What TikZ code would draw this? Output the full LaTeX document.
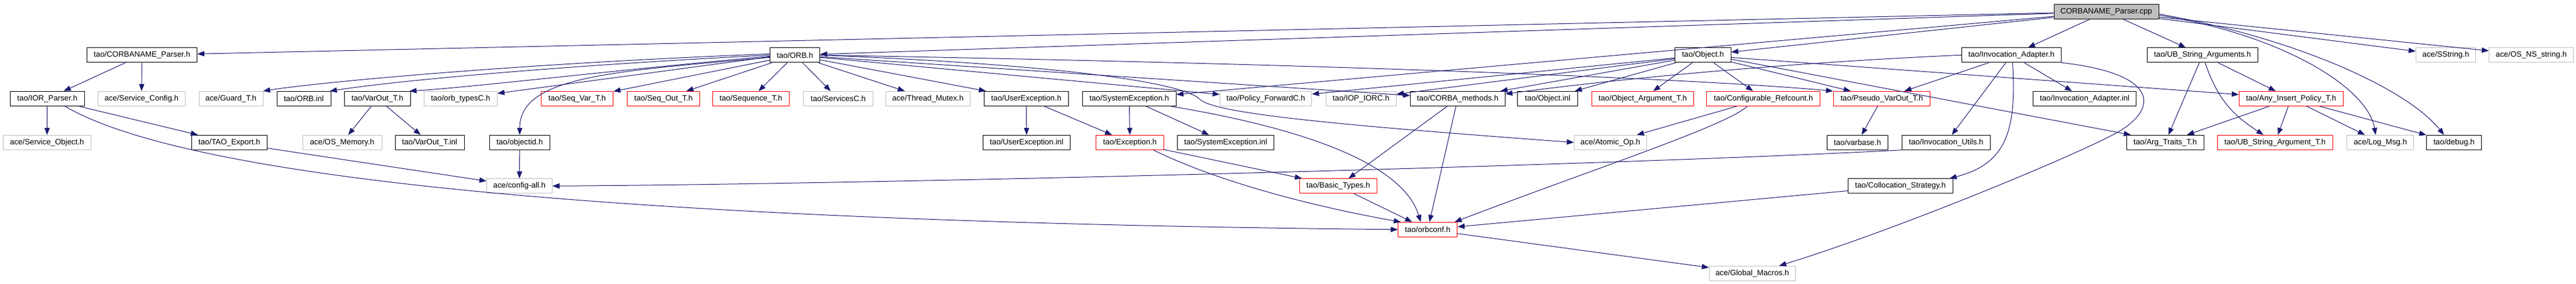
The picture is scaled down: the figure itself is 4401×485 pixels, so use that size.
\documentclass[tikz,border=0pt]{standalone}
\usepackage{fontspec}
\setmainfont{Liberation Sans}
\usetikzlibrary{arrows.meta,calc}
\definecolor{edgec}{HTML}{191970}
\definecolor{grayb}{HTML}{BFBFBF}
\definecolor{redb}{HTML}{FF0000}
\newcommand\nodefont{\fontsize{13.3}{15}\selectfont}
\tikzset{
  nd/.style={draw, minimum height=25pt, inner sep=0pt, font=\nodefont, line width=1pt},
  blk/.style={nd, draw=black},
  gry/.style={nd, draw=grayb},
  rdn/.style={nd, draw=redb},
  edge/.style={draw=edgec, line width=1pt, -{Triangle[length=12pt,width=9pt]}}
}
\begin{document}
\begin{tikzpicture}[x=1pt,y=-1pt]
\fill[white] (0,0) rectangle (4401,485);
\useasboundingbox (0,0) rectangle (4401,485);
% row 0
\node[nd, draw=black, fill=grayb, minimum width=179pt] (root) at (3598.5,20) {CORBANAME\_Parser.cpp};
% row 1
\node[blk, minimum width=188pt] (cph) at (242.6,94.3) {tao/CORBANAME\_Parser.h};
\node[blk, minimum width=85pt] (orbh) at (1358.2,94.3) {tao/ORB.h};
\node[blk, minimum width=95.4pt] (objh) at (2909.5,94.3) {tao/Object.h};
\node[blk, minimum width=170.3pt] (invad) at (3436.5,94.3) {tao/Invocation\_Adapter.h};
\node[blk, minimum width=188.7pt] (ubargs) at (3763,94.3) {tao/UB\_String\_Arguments.h};
\node[gry, minimum width=102pt] (sstring) at (4178.5,94.3) {ace/SString.h};
\node[gry, minimum width=144pt] (osns) at (4324.5,94.3) {ace/OS\_NS\_string.h};
% row 2
\node[blk, minimum width=126.5pt] (ior) at (80.8,168.8) {tao/IOR\_Parser.h};
\node[gry, minimum width=148.5pt] (svcconf) at (241.8,168.8) {ace/Service\_Config.h};
\node[gry, minimum width=109pt] (guard) at (394.5,168.8) {ace/Guard\_T.h};
\node[blk, minimum width=92pt] (orbinl) at (519,168.8) {tao/ORB.inl};
\node[blk, minimum width=112.5pt] (varout) at (644.8,168.8) {tao/VarOut\_T.h};
\node[gry, minimum width=125pt] (orbtypes) at (786.9,168.8) {tao/orb\_typesC.h};
\node[rdn, minimum width=123.2pt] (seqvar) at (986,168.8) {tao/Seq\_Var\_T.h};
\node[rdn, minimum width=123.6pt] (seqout) at (1133.5,168.8) {tao/Seq\_Out\_T.h};
\node[rdn, minimum width=130.7pt] (seq) at (1282.9,168.8) {tao/Sequence\_T.h};
\node[gry, minimum width=119.3pt] (services) at (1432,168.8) {tao/ServicesC.h};
\node[gry, minimum width=144pt] (thread) at (1585.3,168.8) {ace/Thread\_Mutex.h};
\node[blk, minimum width=144pt] (userex) at (1753.3,168.8) {tao/UserException.h};
\node[blk, minimum width=160pt] (sysex) at (1929.3,168.8) {tao/SystemException.h};
\node[gry, minimum width=156.7pt] (policy) at (2162.6,168.8) {tao/Policy\_ForwardC.h};
\node[gry, minimum width=120.5pt] (iop) at (2325.3,168.8) {tao/IOP\_IORC.h};
\node[blk, minimum width=162pt] (corbam) at (2490.4,168.8) {tao/CORBA\_methods.h};
\node[blk, minimum width=102.6pt] (objinl) at (2644.2,168.8) {tao/Object.inl};
\node[rdn, minimum width=174pt] (objarg) at (2806.5,168.8) {tao/Object\_Argument\_T.h};
\node[rdn, minimum width=194pt] (confref) at (3012.8,168.8) {tao/Configurable\_Refcount.h};
\node[rdn, minimum width=165.7pt] (pseudo) at (3215,168.8) {tao/Pseudo\_VarOut\_T.h};
\node[blk, minimum width=176pt] (invadinl) at (3561.6,168.8) {tao/Invocation\_Adapter.inl};
\node[rdn, minimum width=178pt] (anyins) at (3914.3,168.8) {tao/Any\_Insert\_Policy\_T.h};
% row 3
\node[gry, minimum width=149.3pt] (svcobj) at (80.4,243.8) {ace/Service\_Object.h};
\node[blk, minimum width=128.5pt] (taoexp) at (391.8,243.8) {tao/TAO\_Export.h};
\node[gry, minimum width=135pt] (osmem) at (584.5,243.8) {ace/OS\_Memory.h};
\node[blk, minimum width=118pt] (varoutinl) at (734,243.8) {tao/VarOut\_T.inl};
\node[blk, minimum width=102.3pt] (objectid) at (887.9,243.8) {tao/objectid.h};
\node[blk, minimum width=149.2pt] (userexinl) at (1754,243.8) {tao/UserException.inl};
\node[rdn, minimum width=116pt] (exc) at (1930.5,243.8) {tao/Exception.h};
\node[blk, minimum width=164.7pt] (sysexinl) at (2094,243.8) {tao/SystemException.inl};
\node[gry, minimum width=123.7pt] (atomic) at (2751.2,243.8) {ace/Atomic\_Op.h};
\node[blk, minimum width=103.8pt] (varbase) at (3173.4,243.8) {tao/varbase.h};
\node[blk, minimum width=151pt] (invutils) at (3324.9,243.8) {tao/Invocation\_Utils.h};
\node[blk, minimum width=132.4pt] (argtraits) at (3699.2,243.8) {tao/Arg\_Traits\_T.h};
\node[rdn, minimum width=196.8pt] (ubarg) at (3886.8,243.8) {tao/UB\_String\_Argument\_T.h};
\node[gry, minimum width=114pt] (logmsg) at (4066.7,243.8) {ace/Log\_Msg.h};
\node[blk, minimum width=94pt] (debug) at (4192.6,243.8) {tao/debug.h};
% row 4
\node[gry, minimum width=111.8pt] (config) at (887.4,318.3) {ace/config-all.h};
\node[rdn, minimum width=132pt] (basic) at (2286.3,318.3) {tao/Basic\_Types.h};
\node[blk, minimum width=178.8pt] (colloc) at (3246.8,318.3) {tao/Collocation\_Strategy.h};
% row 5, 6
\node[rdn, minimum width=101pt] (orbconf) at (2439.2,392.8) {tao/orbconf.h};
\node[gry, minimum width=147pt] (global) at (2993.6,467.8) {ace/Global\_Macros.h};

% edges from root
\draw[edge] (root) -- (cph);
\draw[edge] (root) -- (orbh);
\draw[edge] (root) -- (objh);
\draw[edge] (root) -- (sysex);
\draw[edge] (root) -- (invad);
\draw[edge] (root) -- (ubargs);
\draw[edge] (root) -- (sstring);
\draw[edge] (root) -- (osns);
\draw[edge] ($(root.east)+(0,6)$) .. controls (3900,60) and (4045,150) .. ($(logmsg.north)+(-8,0)$);
\draw[edge] ($(root.east)+(0,4)$) .. controls (3920,65) and (4110,150) .. ($(debug.north)+(-17,0)$);
% CORBANAME_Parser.h, IOR_Parser.h
\draw[edge] (cph) -- (ior);
\draw[edge] (cph) -- (svcconf);
\draw[edge] (ior) -- (svcobj);
\draw[edge] (ior) -- (taoexp);
\draw[edge] ($(ior.south)+(30,0)$) .. controls (330,310) and (1100,380) .. (orbconf.west);
% VarOut
\draw[edge] (varout) -- (osmem);
\draw[edge] (varout) -- (varoutinl);
% ORB.h
\draw[edge] ($(orbh.west)+(0,-2)$) .. controls (900,108) and (550,140) .. (guard.north east);
\draw[edge] (orbh.west) .. controls (1000,110) and (700,135) .. ($(orbinl.north east)+(-2,0)$);
\draw[edge] ($(orbh.west)+(0,2)$) .. controls (1050,120) and (800,150) .. ($(varout.north east)+(-2,0)$);
\draw[edge] ($(orbh.west)+(0,3)$) -- ($(orbtypes.north east)+(0,4)$);
\draw[edge] ($(orbh.west)+(0,4)$) .. controls (1050,122) and (888,130) .. (objectid.north);
\draw[edge] (orbh) -- (seqvar);
\draw[edge] (orbh) -- (seqout);
\draw[edge] (orbh) -- (seq);
\draw[edge] (orbh) -- (services);
\draw[edge] (orbh) -- (thread);
\draw[edge] (orbh) -- (userex);
\draw[edge] (orbh) -- (policy);
\draw[edge] (orbh) -- (corbam);
\draw[edge] (orbh.east) .. controls (1800,110) and (2020,140) .. (2050,170) .. controls (2075,195) and (2300,215) .. (atomic.west);
\draw[edge] (orbh.east) .. controls (2300,110) and (2900,135) .. (pseudo.north west);
% exceptions
\draw[edge] (userex) -- (userexinl);
\draw[edge] (userex) -- (exc);
\draw[edge] (sysex) -- (exc);
\draw[edge] (sysex) -- (sysexinl);
\draw[edge] ($(sysex.south east)+(-10,0)$) .. controls (2260,225) and (2400,290) .. ($(orbconf.north)+(-12,0)$);
\draw[edge] (exc) -- (basic);
\draw[edge] ($(exc.south)+(40,0)$) .. controls (2100,320) and (2280,360) .. ($(orbconf.north west)+(5,0)$);
% config-all
\draw[edge] (taoexp) -- (config);
\draw[edge] (objectid) -- (config);
\draw[edge] (invutils.south west) .. controls (2700,285) and (1500,315) .. (config.east);
% Invocation_Adapter.h
\draw[edge] (invad) -- (pseudo);
\draw[edge] (invad) -- (invutils);
\draw[edge] (invad) -- (invadinl);
\draw[edge] (invad.west) .. controls (3100,105) and (2800,130) .. ($(corbam.east)+(0,-8)$);
\draw[edge] ($(invad.south)+(2,0)$) .. controls (3445,220) and (3430,280) .. ($(colloc.north east)+(-6,0)$);
\draw[edge] (invad.south east) .. controls (3680,125) and (3690,180) .. (3625,222) .. controls (3575,254) and (3250,390) .. ($(global.north east)+(-28,0)$);
\draw[edge] (pseudo) -- (varbase);
% Object.h
\draw[edge] (objh) -- (iop);
\draw[edge] (objh) -- (policy);
\draw[edge] (objh) -- (corbam);
\draw[edge] (objh) -- (objinl);
\draw[edge] (objh) -- (objarg);
\draw[edge] (objh) -- (confref);
\draw[edge] (objh) -- (pseudo);
\draw[edge] ($(objh.east)+(0,4)$) -- ($(anyins.west)+(0,-7)$);
\draw[edge] ($(objh.east)+(0,7)$) -- ($(argtraits.north west)+(8,0)$);
% Configurable_Refcount, CORBA_methods, Basic_Types, Collocation, orbconf
\draw[edge] (confref) -- (atomic);
\draw[edge] ($(confref.south west)+(70,0)$) .. controls (2950,215) and (2720,290) .. ($(orbconf.north east)+(-5,0)$);
\draw[edge] (corbam) -- (basic);
\draw[edge] (corbam) -- (orbconf);
\draw[edge] (basic) -- (orbconf);
\draw[edge] (colloc) -- (orbconf);
\draw[edge] (orbconf) -- (global);
% UB_String_Arguments, Any_Insert_Policy
\draw[edge] (ubargs) -- (argtraits);
\draw[edge] (ubargs) .. controls (3790,175) and (3820,200) .. (ubarg);
\draw[edge] (ubargs) -- (anyins);
\draw[edge] (anyins) -- (argtraits);
\draw[edge] (anyins) -- (ubarg);
\draw[edge] (anyins) -- (logmsg);
\draw[edge] (anyins) -- (debug);
\end{tikzpicture}
\end{document}
